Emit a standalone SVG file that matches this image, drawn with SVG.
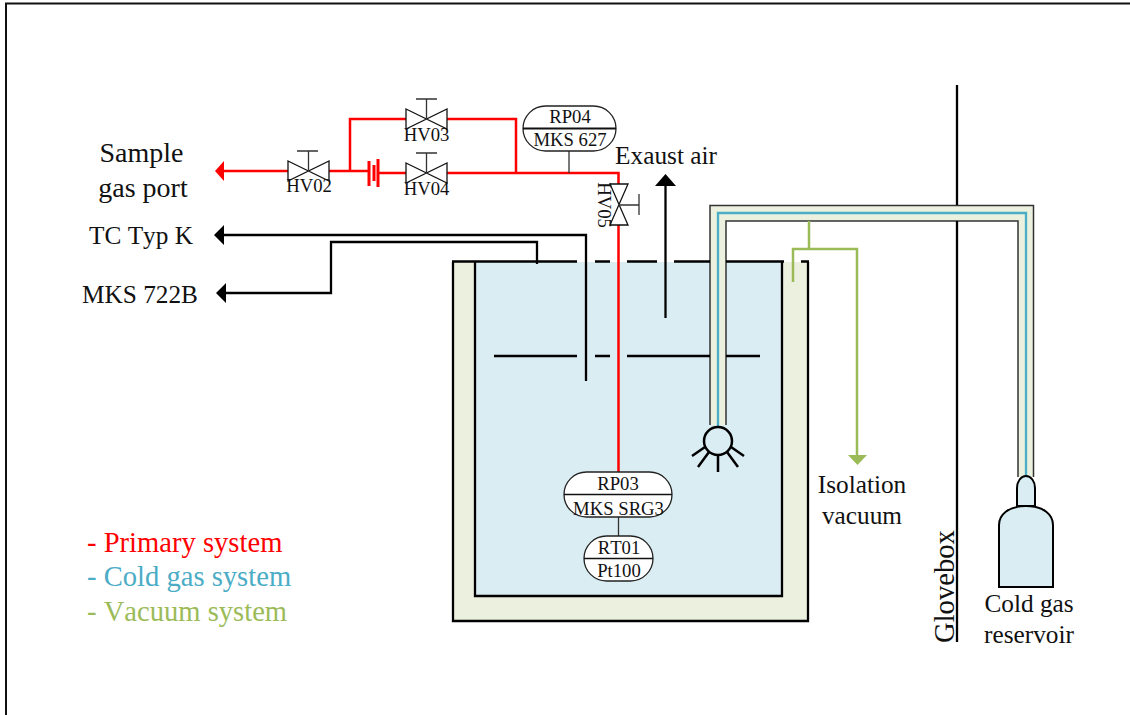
<svg xmlns="http://www.w3.org/2000/svg" width="1130" height="715" viewBox="0 0 1130 715">
<style>
text{font-family:"Liberation Serif","Times New Roman",serif;fill:#111;font-kerning:none}
.sm{font-size:18.700px;text-anchor:middle}
.big{font-size:28px;text-anchor:middle}
.mid{font-size:25.300px;text-anchor:middle}
.leg{font-size:28.600px}
.k{fill:none;stroke:#000;stroke-width:2.300}
.r{fill:none;stroke:#f00;stroke-width:2.500}
.g{fill:none;stroke:#9bbb59;stroke-width:2.500}
.b{fill:none;stroke:#4bacc6;stroke-width:2.300}
.v{fill:#fff;stroke:#111;stroke-width:1.300}
.s{fill:none;stroke:#333;stroke-width:1.300}
.p{fill:#fff;stroke:#222;stroke-width:1.300}
</style>
<g id="frame"><path d="M6 715V3.500H1130" fill="none" stroke="#111" stroke-width="2"/></g>
<g id="tank">
<rect x="453" y="262" width="355" height="359" fill="#ebf1de"/>
<rect x="475" y="262" width="307" height="334" fill="#daedf3"/>
<path d="M453 262V621H808V262M475 262V596H782V262" class="k"/>
</g>
<g id="tube">
<path d="M710 425V205.500H1033.500V477H1018V221H726V425Z" fill="#ebf1de"/>
<path d="M710 425V205.500H1033.500V477M726 425V221H1018V477" fill="none" stroke="#333" stroke-width="1.500"/>
<path d="M718 427V213H1026V477" class="b"/>
</g>
<g id="connectors">
<path d="M224 171H288M329 171H369M350 171V119H406M447 119H516V173M379 173H406M447 173H618.500V184M618.500 225V472" class="r"/>
<path d="M369 161V186M378 159V187M374 165V181" class="r" style="stroke-width:3"/>
<path d="M215 171L224 161V181Z" fill="#f00"/>
<path d="M223 235H586V381M225 293H331V242H537V264" class="k"/>
<path d="M214 235L224 225V245ZM216 293L226 283V303Z" fill="#000"/>
<path d="M665.500 186V318" class="k"/>
<path d="M655 186L665.500 174L676 186Z" fill="#000"/>
<path d="M452 261.500H577M595 261.500H610M627 261.500H657M674 261.500H710M726 261.500H784M801 261.500H809M494 356H577M595 356H610M627 356H710M726 356H760" class="k"/>
<path d="M809 221V249M793 282V249H857V456" class="g"/>
<path d="M848 455H867L857.500 465Z" fill="#9bbb59"/>
<path d="M569 151V173M618.500 517V536" class="s"/>
<path d="M957 85V205M957 221V642" class="k"/>
</g>
<g id="HV02"><path d="M288 161L329 181V161L288 181Z" class="v"/><path d="M308.500 171V151M297 151H318" class="s"/><text x="309" y="192" class="sm">HV02</text></g>
<g id="HV03"><path d="M406 109L447 129V109L406 129Z" class="v"/><path d="M426.500 119V99M416 99H437" class="s"/><text x="426.500" y="141" class="sm">HV03</text></g>
<g id="HV04"><path d="M406 163L447 183V163L406 183Z" class="v"/><path d="M426.500 173V153M416 153H437" class="s"/><text x="426.500" y="195" class="sm">HV04</text></g>
<g id="HV05"><path d="M610 184H628L610 225H628Z" class="v"/><path d="M619 205H639M639 194V215" class="s"/><text transform="translate(598 205) rotate(90)" class="sm">HV05</text></g>
<g id="RP04"><rect x="523" y="106" width="93" height="45" rx="22.500" class="p"/><path d="M523 128.500H616" stroke="#111" stroke-width="1.800"/><text x="570" y="123" class="sm">RP04</text><text x="570" y="146" class="sm">MKS 627</text></g>
<g id="RP03"><rect x="564" y="472" width="108" height="45" rx="22.500" class="p"/><path d="M564 494.500H672" stroke="#111" stroke-width="1.500"/><text x="618" y="490" class="sm">RP03</text><text x="618.500" y="515" class="sm">MKS SRG3</text></g>
<g id="RT01"><rect x="584" y="536" width="69" height="45" rx="22.500" class="p"/><path d="M584 558.500H653" stroke="#111" stroke-width="1.300"/><text x="619" y="554" class="sm">RT01</text><text x="619" y="577" class="sm">Pt100</text></g>
<g id="cooler">
<circle cx="718" cy="441" r="14" fill="#daedf3" stroke="#000" stroke-width="2.500"/>
<path d="M705 447L692 456M709 452L698 467M718 455V472M727 452L738 467M731 447L744 456" fill="none" stroke="#000" stroke-width="2.500"/>
</g>
<g id="bottle">
<path d="M1017 506V488A9 12 0 0 1 1035 488V506Z" fill="#daedf3" stroke="#000" stroke-width="2"/>
<path d="M999 587V525C999 515 1008 506 1026 506C1044 506 1053 515 1053 525V587Z" fill="#daedf3" stroke="#000" stroke-width="2"/>
</g>
<g id="labels">
<text x="141.500" y="162" class="big">Sample</text>
<text x="143" y="197" class="big">gas port</text>
<text x="141" y="244" class="mid">TC Typ K</text>
<text x="140" y="303" class="mid">MKS 722B</text>
<text x="666" y="164" class="mid">Exaust air</text>
<text x="862" y="493" class="mid">Isolation</text>
<text x="862" y="524" class="mid">vacuum</text>
<text x="1029" y="612" class="mid">Cold gas</text>
<text x="1029" y="643" class="mid">reservoir</text>
<text transform="translate(954 643) rotate(-90)" class="leg">Glovebox</text>
<text x="87" y="552" class="leg" style="fill:#f00">- Primary system</text>
<text x="87" y="586" class="leg" style="fill:#4bacc6">- Cold gas system</text>
<text x="87" y="621" class="leg" style="fill:#9bbb59">- Vacuum system</text>
</g>
</svg>
